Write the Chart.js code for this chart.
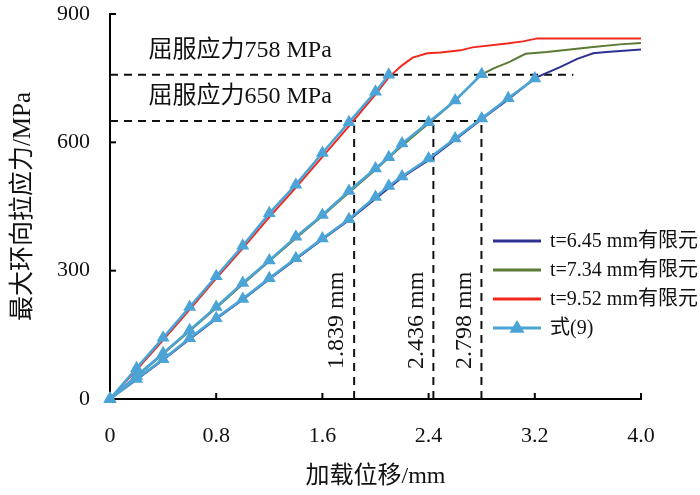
<!DOCTYPE html>
<html><head><meta charset="utf-8">
<script src="https://cdn.jsdelivr.net/npm/chart.js@4.4.1/dist/chart.umd.min.js"></script>
<style>html,body{margin:0;padding:0;background:#fff;}#wrap{width:700px;height:495px;}</style>
</head><body><div id="wrap"><canvas id="c" width="700" height="495"></canvas></div>
<script>
// ---- data ----
const xTickValues = [0, 0.8, 1.6, 2.4, 3.2, 4.0];
const yTickValues = [0, 300, 600, 900];

const seriesLabels = ['t=6.45 mm有限元', 't=7.34 mm有限元', 't=9.52 mm有限元', '式(9)'];

// FE results
const fe645X = [0,0.2,0.4,0.6,0.8,1.0,1.2,1.4,1.6,1.8,2.0,2.2,2.4,2.6,2.8,3.0,3.2,3.39,3.52,3.64,3.74,4.0];
const fe645Y = [0,45,91,140,187,232,280,327,373,418,468,518,558,606,654,700,750,776,795,808,811,817];
const fe734X = [0,0.2,0.4,0.6,0.8,1.0,1.2,1.4,1.6,1.8,2.0,2.2,2.4,2.6,2.79,2.89,3.01,3.13,3.29,3.64,3.84,4.0];
const fe734Y = [0,52,105,159,213,268,322,376,428,483,536,592,644,697,757,773,788,807,811,823,829,832];
const fe952X = [0,0.2,0.4,0.6,0.8,1.0,1.2,1.4,1.6,1.8,2.0,2.1,2.2,2.28,2.39,2.49,2.64,2.73,2.99,3.11,3.22,4.0];
const fe952Y = [0,68,138,209,282,352,425,494,566,638,712,752,780,798,808,810,815,822,831,836,843,843];

// formula (9)
const f645X = [0,0.2,0.4,0.6,0.8,1.0,1.2,1.4,1.6,1.8,2.0,2.1,2.2,2.4,2.6,2.8,3.0,3.2];
const f645Y = [0,47,93,142,189,234,282,329,375,420,472,498,520,562,609,656,703,749];
const f734X = [0,0.2,0.4,0.6,0.8,1.0,1.2,1.4,1.6,1.8,2.0,2.1,2.2,2.4,2.6,2.8];
const f734Y = [0,54,107,161,215,271,324,379,430,486,539,565,597,647,698,759];
const f952X = [0,0.2,0.4,0.6,0.8,1.0,1.2,1.4,1.6,1.8,2.0,2.1];
const f952Y = [0,72,143,215,287,358,434,501,575,647,718,758];

// yield reference lines
const yieldStress = [758, 650];
const yieldStressEnd = [3.49, 2.798];
const yieldDisp = [1.839, 2.436, 2.798];
const yieldStressText = ['屈服应力758 MPa', '屈服应力650 MPa'];
const yieldDispText = ['1.839 mm', '2.436 mm', '2.798 mm'];

// ---- styling ----
const C_BLUE = '#2e3192', C_GREEN = '#5b7b35', C_RED = '#f0281e', C_F = '#4ba3d6';
const FONT = "'Liberation Serif','Noto Sans CJK SC',serif";

const pts = (xs, ys) => xs.map((x, i) => ({x, y: ys[i]}));

const datasets = [];
[[f645X,f645Y],[f734X,f734Y],[f952X,f952Y]].forEach(([xs,ys]) => {
  datasets.push({label: seriesLabels[3], data: pts(xs, ys), borderColor: C_F, backgroundColor: C_F,
    borderWidth: 2.6, pointStyle: 'triangle', pointRadius: 7.5, pointBorderWidth: 0, order: 0, clip: false, isFormula: true});
});
[[fe645X,fe645Y,C_BLUE,0],[fe734X,fe734Y,C_GREEN,1],[fe952X,fe952Y,C_RED,2]].forEach(([xs,ys,c,i]) => {
  datasets.push({label: seriesLabels[i], data: pts(xs, ys), borderColor: c, backgroundColor: c,
    borderWidth: 2, pointRadius: 0, order: 1, legendIdx: i});
});
yieldStress.forEach((s, i) => {
  datasets.push({label: 'h' + i, data: [{x: 0, y: s}, {x: yieldStressEnd[i], y: s}], borderColor: '#111',
    borderWidth: 2, borderDash: [8, 6], pointRadius: 0, order: 2, isRef: true});
});
yieldDisp.forEach((d, i) => {
  datasets.push({label: 'v' + i, data: [{x: d, y: 0}, {x: d, y: yieldStress[1]}], borderColor: '#111',
    borderWidth: 2, borderDash: [8, 6], pointRadius: 0, order: 2, isRef: true});
});

const extras = {
  id: 'extras',
  afterDraw(chart) {
    const ctx = chart.ctx, xs = chart.scales.x, ys = chart.scales.y;
    ctx.save();
    // inward ticks
    ctx.strokeStyle = '#000'; ctx.lineWidth = 2;
    xTickValues.forEach(v => { if (v === 0) return; const p = xs.getPixelForValue(v);
      ctx.beginPath(); ctx.moveTo(p, ys.bottom); ctx.lineTo(p, ys.bottom - 6); ctx.stroke(); });
    yTickValues.forEach(v => { if (v === 0) return; const p = ys.getPixelForValue(v);
      ctx.beginPath(); ctx.moveTo(xs.left, p); ctx.lineTo(xs.left + 6, p); ctx.stroke(); });
    // yield stress labels
    ctx.fillStyle = '#111'; ctx.font = '24px ' + FONT; ctx.textBaseline = 'middle'; ctx.textAlign = 'left';
    const lx = xs.getPixelForValue(0.29);
    ctx.fillText(yieldStressText[0], lx, ys.getPixelForValue(yieldStress[0]) - 24);
    ctx.fillText(yieldStressText[1], lx, ys.getPixelForValue(yieldStress[1]) - 24);
    // displacement labels (vertical)
    ctx.textAlign = 'center';
    yieldDisp.forEach((d, i) => {
      ctx.save();
      ctx.translate(xs.getPixelForValue(d) - 17, ys.getPixelForValue(184));
      ctx.rotate(-Math.PI / 2);
      ctx.fillText(yieldDispText[i], 0, 0);
      ctx.restore();
    });
    // legend
    ctx.font = '20px ' + FONT; ctx.textAlign = 'left';
    const entries = [
      chart.data.datasets.find(d => d.legendIdx === 0),
      chart.data.datasets.find(d => d.legendIdx === 1),
      chart.data.datasets.find(d => d.legendIdx === 2),
      chart.data.datasets.find(d => d.isFormula)
    ];
    const x0 = 493, x1 = 541, rowY = [241, 270, 299, 328];
    entries.forEach((ds, i) => {
      const y = rowY[i];
      ctx.strokeStyle = ds.borderColor; ctx.lineWidth = 3;
      ctx.beginPath(); ctx.moveTo(x0, y); ctx.lineTo(x1, y); ctx.stroke();
      if (ds.isFormula) {
        const cx = (x0 + x1) / 2, r = 8;
        ctx.fillStyle = ds.backgroundColor;
        ctx.beginPath(); ctx.moveTo(cx, y - r); ctx.lineTo(cx + r * 0.95, y + r * 0.6); ctx.lineTo(cx - r * 0.95, y + r * 0.6); ctx.closePath(); ctx.fill();
      }
      ctx.fillStyle = '#111';
      ctx.fillText(ds.label, 550, y + 1);
    });
    ctx.restore();
  }
};

new Chart(document.getElementById('c'), {
  type: 'scatter',
  data: {datasets},
  options: {
    responsive: false, animation: false, showLine: true,
    layout: {padding: {left: 0, right: 59, top: 14, bottom: 0}},
    plugins: {legend: {display: false}, tooltip: {enabled: false}},
    elements: {line: {tension: 0}},
    scales: {
      x: {
        type: 'linear', min: 0, max: 4,
        afterBuildTicks: s => { s.ticks = xTickValues.map(v => ({value: v})); },
        afterFit: s => { s.height = 96; s.paddingLeft = 0; s.paddingRight = 0; },
        grid: {display: false, drawTicks: false},
        border: {display: true, color: '#000', width: 2},
        ticks: {color: '#111', font: {family: FONT, size: 22}, padding: 24, maxRotation: 0,
          callback: v => v === 0 ? '0' : v.toFixed(1)},
        title: {display: true, text: '加载位移/mm', color: '#111', font: {family: FONT, size: 24}, padding: {top: 0, bottom: 4}}
      },
      y: {
        type: 'linear', min: 0, max: 900,
        afterBuildTicks: s => { s.ticks = yTickValues.map(v => ({value: v})); },
        afterFit: s => { s.width = 110; s.paddingTop = 0; s.paddingBottom = 0; },
        grid: {display: false, drawTicks: false},
        border: {display: true, color: '#000', width: 2},
        ticks: {color: '#111', font: {family: FONT, size: 22}, padding: 20, callback: v => String(v)},
        title: {display: true, text: '最大环向拉应力/MPa', color: '#111', font: {family: FONT, size: 25}, padding: {top: 8, bottom: 0}}
      }
    }
  },
  plugins: [extras]
});
</script>
</body></html>
